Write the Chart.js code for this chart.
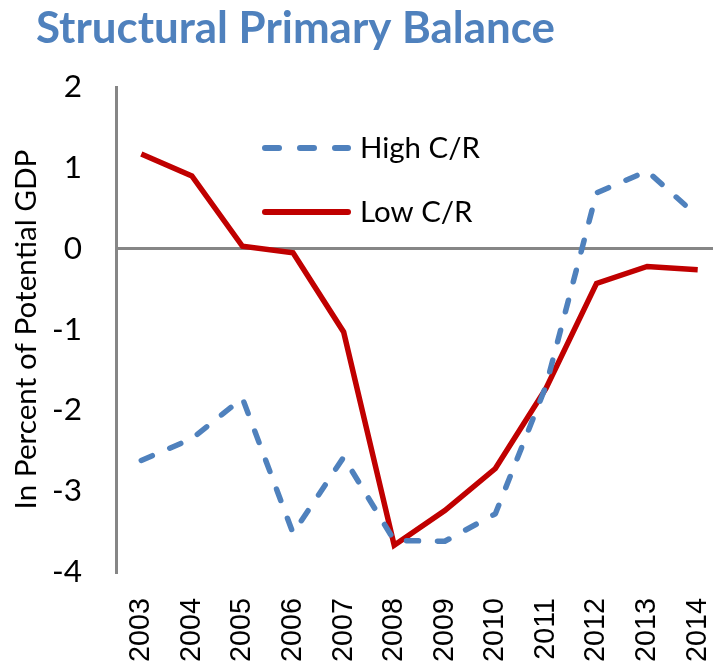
<!DOCTYPE html>
<html>
<head>
<meta charset="utf-8">
<script src="https://cdn.jsdelivr.net/npm/chart.js@4.4.1/dist/chart.umd.min.js"></script>
<style>
  html, body { margin: 0; padding: 0; background: #ffffff; overflow: hidden; }
  #wrap { position: relative; width: 723px; height: 664px; }
</style>
</head>
<body>
<div id="wrap"><canvas id="c"></canvas></div>
<script>
// ---- data ----
const years = ['2003','2004','2005','2006','2007','2008','2009','2010','2011','2012','2013','2014'];
const highCR = [-2.62, -2.35, -1.85, -3.52, -2.58, -3.61, -3.62, -3.28, -1.70, 0.69, 0.96, 0.40];
const lowCR  = [1.17, 0.90, 0.03, -0.05, -1.03, -3.67, -3.24, -2.72, -1.73, -0.43, -0.22, -0.26];
const seriesNames = ['High C/R', 'Low C/R'];
const yTicks = [2, 1, 0, -1, -2, -3, -4];
const chartTitle = 'Structural Primary Balance';
const yTitle = 'In Percent of Potential GDP';

// ---- style ----
const BLUE = '#4F81BD', RED = '#C00000', GREY = '#868686';
const SANS = 'Lato, "Open Sans", "Liberation Sans", sans-serif';
const ARIAL = '"Liberation Sans", Arial, sans-serif';

function fitSize(text, weight, family, target) {
  const c = document.createElement('canvas').getContext('2d');
  c.font = weight + ' 100px ' + family;
  return 100 * target / c.measureText(text).width;
}
const titleSize = fitSize(chartTitle, 'bold', SANS, 519);
const yTitleSize = fitSize(yTitle, 'normal', SANS, 360);
const tickSize = fitSize('-4', 'normal', SANS, 30);
const xTickSize = fitSize('2003', 'normal', ARIAL, 64);
const legendSize = fitSize('High C/R', 'normal', SANS, 120);

const overlay = {
  id: 'overlay',
  afterDraw(chart) {
    const ctx = chart.ctx;
    const a = chart.chartArea;
    ctx.save();
    // title
    ctx.fillStyle = BLUE;
    ctx.font = 'bold ' + titleSize + 'px ' + SANS;
    ctx.textAlign = 'left';
    ctx.textBaseline = 'alphabetic';
    ctx.fillText(chartTitle, 36, 43);
    // legend
    chart.data.datasets.forEach((ds, i) => {
      const y = a.top + 61 + i * 64;
      ctx.beginPath();
      ctx.strokeStyle = ds.borderColor;
      ctx.lineWidth = 6;
      ctx.lineCap = 'round';
      ctx.setLineDash(ds.borderDash && ds.borderDash.length ? [14, 21] : []);
      ctx.moveTo(a.left + 149, y);
      ctx.lineTo(a.left + 232, y);
      ctx.stroke();
      ctx.setLineDash([]);
      ctx.fillStyle = '#000000';
      ctx.font = legendSize + 'px ' + SANS;
      ctx.textBaseline = 'middle';
      ctx.fillText(ds.label, a.left + 244, y + 1);
    });
    ctx.restore();
  }
};

new Chart(document.getElementById('c'), {
  type: 'line',
  data: {
    labels: years,
    datasets: [
      { label: seriesNames[0], data: highCR, borderColor: BLUE, backgroundColor: BLUE,
        borderWidth: 5.5, borderDash: [12, 19], borderCapStyle: 'round', borderJoinStyle: 'round',
        pointRadius: 0, tension: 0, fill: false },
      { label: seriesNames[1], data: lowCR, borderColor: RED, backgroundColor: RED,
        borderWidth: 5.5, borderCapStyle: 'butt', borderJoinStyle: 'miter',
        pointRadius: 0, tension: 0, fill: false }
    ]
  },
  options: {
    responsive: true,
    maintainAspectRatio: false,
    animation: false,
    layout: { padding: { top: 87, left: 0, right: 0, bottom: 0 } },
    plugins: { legend: { display: false }, title: { display: false }, tooltip: { enabled: false } },
    scales: {
      x: {
        type: 'category',
        offset: true,
        grid: { display: false, drawTicks: false },
        border: { display: false },
        ticks: { color: '#000000', font: { family: ARIAL, size: xTickSize }, minRotation: 90, maxRotation: 90, padding: 26, autoSkip: false },
        afterFit(s) { s.height = 92; s.paddingLeft = 0; s.paddingRight = 0; }
      },
      y: {
        min: -4, max: 2,
        afterBuildTicks(s) { s.ticks = yTicks.map(v => ({ value: v })); },
        grid: { drawTicks: false, lineWidth: 3, color: (c) => c.tick && c.tick.value === 0 ? GREY : 'rgba(0,0,0,0)' },
        border: { display: true, color: GREY, width: 3 },
        ticks: { color: '#000000', font: { family: SANS, size: tickSize }, padding: 34 },
        title: { display: true, text: yTitle, color: '#000000', font: { family: SANS, size: yTitleSize }, padding: { top: 9, bottom: 0 } },
        afterFit(s) { s.width = 116; s.paddingTop = 0; s.paddingBottom = 0; }
      }
    }
  },
  plugins: [overlay]
});
</script>
</body>
</html>
